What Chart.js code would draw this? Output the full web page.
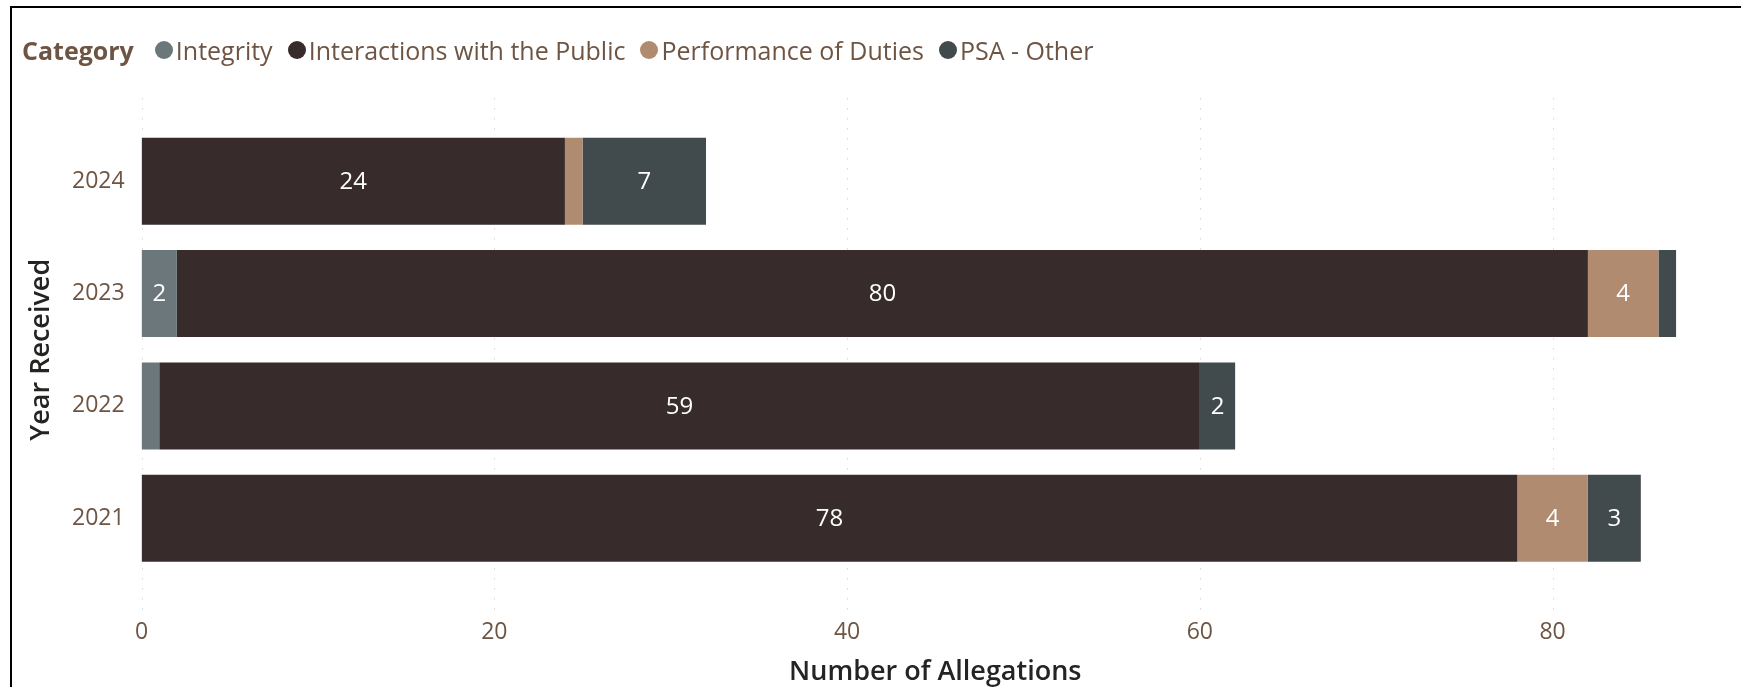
<!DOCTYPE html>
<html>
<head>
<meta charset="utf-8">
<title>Allegations by Year Received</title>
<script src="https://cdn.jsdelivr.net/npm/chart.js@4.4.1/dist/chart.umd.min.js"></script>
<style>
  html, body { margin: 0; padding: 0; background: #fff; }
  #wrap { position: relative; width: 1741px; height: 687px; overflow: hidden; }
  #chart { position: absolute; left: 0; top: 0; }
  #frame {
    position: absolute; left: 10px; top: 6px; right: 0; bottom: 0;
    border-top: 2px solid #000; border-left: 2px solid #000;
    pointer-events: none;
  }
  #legend {
    position: absolute; left: 22px; top: 31px; height: 38px;
    display: flex; align-items: center;
    font-family: "Open Sans", "Noto Sans", sans-serif; font-size: 25px; color: #6E5443;
    white-space: nowrap;
  }
  #legend .title { font-weight: 700; margin-right: 21px; }
  #legend .item { display: flex; align-items: center; margin-right: 15px; }
  #legend .dot { width: 18px; height: 18px; border-radius: 50%; margin-right: 3px; }
</style>
</head>
<body>
<div id="wrap">
  <canvas id="chart" width="1741" height="687"></canvas>
  <div id="legend"></div>
  <div id="frame"></div>
</div>
<script>
// Years on the vertical axis, newest first
const years = ['2024', '2023', '2022', '2021'];

// Allegation counts per category, in the same order as years
const integrity = [0, 2, 1, 0];
const interactionsWithPublic = [24, 80, 59, 78];
const performanceOfDuties = [1, 4, 0, 4];
const psaOther = [7, 1, 2, 3];

const categoryNames = ['Integrity', 'Interactions with the Public', 'Performance of Duties', 'PSA - Other'];
const categoryColors = ['#6B777B', '#372C2B', '#B08B70', '#414A4C'];

const xTicks = [0, 20, 40, 60, 80];

const TEXT_BROWN = '#6E5443';
const TITLE_DARK = '#252423';

const seriesValues = [integrity, interactionsWithPublic, performanceOfDuties, psaOther];

// Dotted vertical gridlines that run a little beyond the plot area
const dottedGrid = {
  id: 'dottedGrid',
  beforeDatasetsDraw(chart) {
    const ctx = chart.ctx;
    const xs = chart.scales.x;
    ctx.save();
    ctx.strokeStyle = '#D6D6D6';
    ctx.lineWidth = 1;
    ctx.setLineDash([1.5, 8.5]);
    xTicks.forEach(v => {
      const px = Math.round(xs.getPixelForValue(v)) + 0.5;
      ctx.beginPath();
      ctx.moveTo(px, chart.chartArea.top - 27);
      ctx.lineTo(px, chart.chartArea.bottom + 38);
      ctx.stroke();
    });
    ctx.restore();
  }
};

// Value labels centred inside each segment that is wide enough to hold them
const segmentLabels = {
  id: 'segmentLabels',
  afterDatasetsDraw(chart) {
    const ctx = chart.ctx;
    ctx.save();
    ctx.font = '24px "Open Sans", "Noto Sans", sans-serif';
    ctx.fillStyle = '#FFFFFF';
    ctx.textAlign = 'center';
    ctx.textBaseline = 'middle';
    chart.data.datasets.forEach((ds, di) => {
      const meta = chart.getDatasetMeta(di);
      meta.data.forEach((bar, i) => {
        const v = ds.data[i];
        if (!v) return;
        const text = String(v);
        const w = Math.abs(bar.x - bar.base);
        if (w < ctx.measureText(text).width + 16) return;
        ctx.fillText(text, (bar.x + bar.base) / 2, bar.y + 1);
      });
    });
    ctx.restore();
  }
};

const datasets = categoryNames.map((name, k) => ({
  label: name,
  data: seriesValues[k],
  backgroundColor: categoryColors[k],
  borderWidth: 0,
  categoryPercentage: 1,
  barPercentage: 0.775
}));

const axisTitleFont = { family: '"Open Sans", "Noto Sans", sans-serif', size: 27, weight: '600', lineHeight: 1.1 };

const chart = new Chart(document.getElementById('chart'), {
  type: 'bar',
  data: { labels: years, datasets },
  options: {
    indexAxis: 'y',
    responsive: false,
    animation: false,
    layout: { padding: { top: 125, left: 20.8, right: 12, bottom: 0 } },
    plugins: {
      legend: { display: false },
      tooltip: { enabled: false }
    },
    scales: {
      x: {
        stacked: true,
        min: 0,
        max: 90,
        grid: { display: false },
        border: { display: false },
        afterBuildTicks(scale) {
          scale.ticks = xTicks.map(v => ({ value: v }));
        },
        afterFit(scale) { scale.height = 112.5; },
        ticks: {
          color: TEXT_BROWN,
          font: { family: '"Open Sans", "Noto Sans", sans-serif', size: 23 },
          padding: 36,
          maxRotation: 0
        },
        title: {
          display: true,
          text: 'Number of Allegations',
          color: TITLE_DARK,
          font: axisTitleFont,
          padding: { top: 0, bottom: 0 }
        }
      },
      y: {
        stacked: true,
        grid: { display: false },
        border: { display: false },
        afterFit(scale) { scale.width = 120.8; },
        ticks: {
          color: TEXT_BROWN,
          font: { family: '"Open Sans", "Noto Sans", sans-serif', size: 23 },
          padding: 9
        },
        title: {
          display: true,
          text: 'Year Received',
          color: TITLE_DARK,
          font: axisTitleFont,
          padding: { top: 6, bottom: 0 }
        }
      }
    }
  },
  plugins: [dottedGrid, segmentLabels]
});

// Inline legend with a bold heading, built from the chart's datasets
const legend = document.getElementById('legend');
const head = document.createElement('span');
head.className = 'title';
head.textContent = 'Category';
legend.appendChild(head);
chart.data.datasets.forEach(ds => {
  const item = document.createElement('span');
  item.className = 'item';
  const dot = document.createElement('span');
  dot.className = 'dot';
  dot.style.background = ds.backgroundColor;
  const label = document.createElement('span');
  label.textContent = ds.label;
  item.appendChild(dot);
  item.appendChild(label);
  legend.appendChild(item);
});
</script>
</body>
</html>
